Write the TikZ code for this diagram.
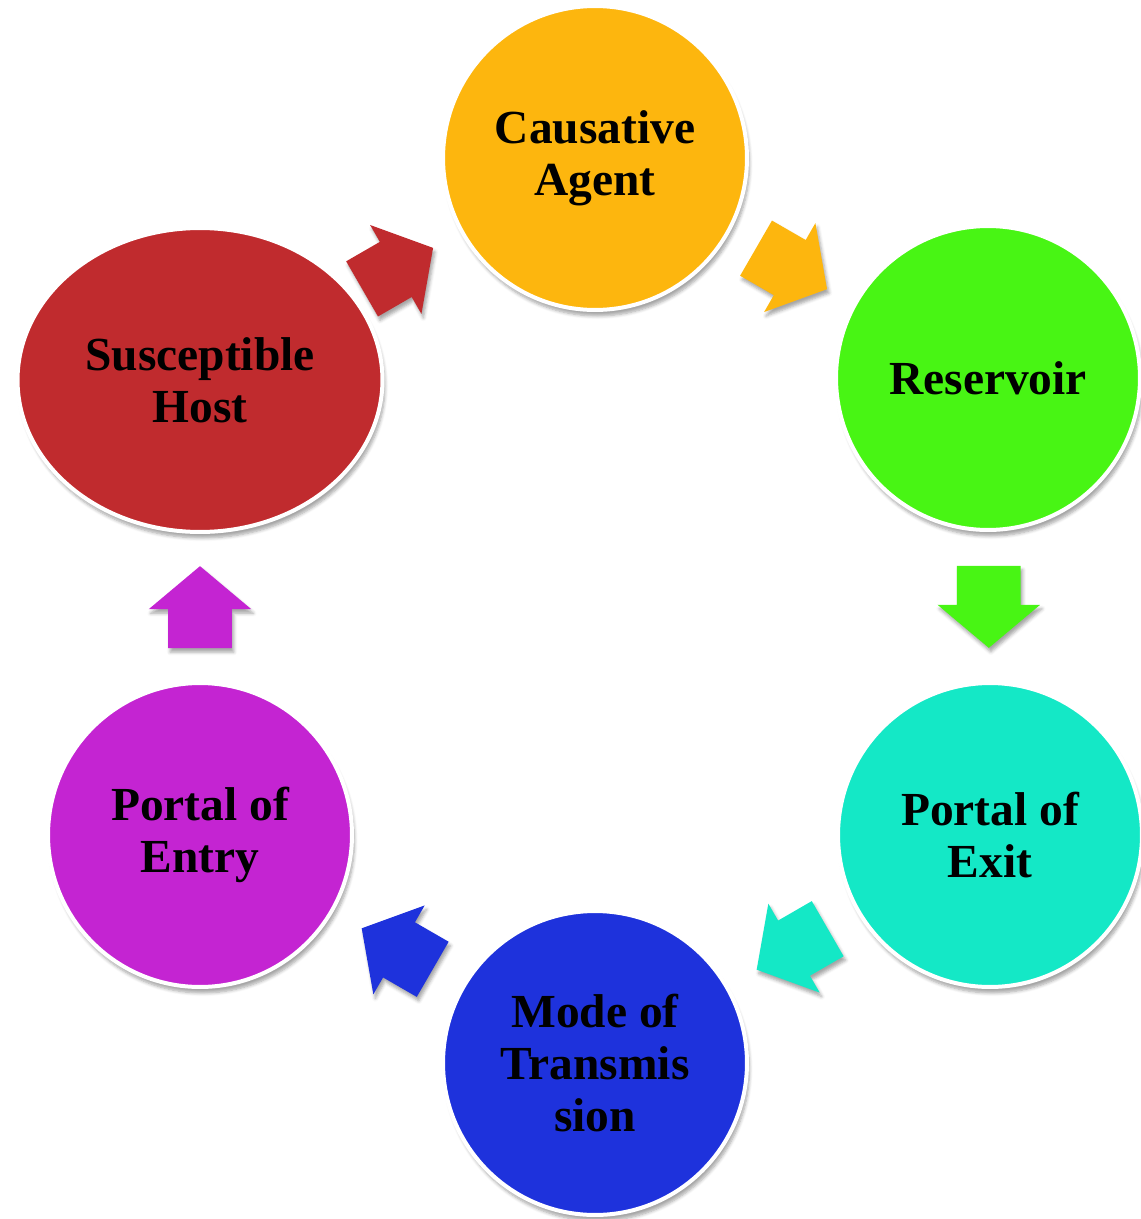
\documentclass[tikz,border=0pt]{standalone}
\usepackage{fontspec}
\setmainfont{Liberation Serif}
\usetikzlibrary{shapes.geometric,shapes.arrows,shadows.blur,calc}
\definecolor{agentc}{RGB}{253,182,14}
\definecolor{reservc}{RGB}{72,245,20}
\definecolor{exitc}{RGB}{20,232,198}
\definecolor{modec}{RGB}{30,50,220}
\definecolor{entryc}{RGB}{196,36,210}
\definecolor{hostc}{RGB}{192,43,46}
\tikzset{
    stage/.style={circle, draw=white, line width=0.08cm, minimum size=6.08cm, inner sep=0pt, align=center,
        font=\fontsize{27}{29.6}\selectfont\bfseries,
        blur shadow={shadow xshift=0.5mm, shadow yshift=-1.2mm, shadow opacity=35, shadow blur steps=6}},
    flow/.style={single arrow, anchor=tail, minimum height=1.64cm, inner xsep=0pt, inner ysep=0.63cm,
        single arrow head extend=0.39cm, single arrow tip angle=100,
        blur shadow={shadow xshift=0.4mm, shadow yshift=-0.8mm, shadow opacity=35, shadow blur steps=4}}
}
\begin{document}
\begin{tikzpicture}[x=0.02cm, y=-0.02cm]
    \useasboundingbox (0,0) rectangle (1140,1219);
    \node(agent) [stage, fill=agentc] at (595,158) {Causative\\Agent};
    \node(reservoir) [stage, fill=reservc] at (988,378) {Reservoir};
    \node(exit) [stage, fill=exitc] at (990,835) {Portal of\\Exit};
    \node(mode) [stage, fill=modec] at (595,1063) {Mode of\\Transmis\\sion};
    \node(entry) [stage, fill=entryc] at (200,835) {Portal of\\Entry};
    \node(host) [stage, ellipse, fill=hostc, minimum width=7.3cm, minimum height=6.08cm] at (200,380) {Susceptible\\Host};

    % block arrows between the stages, tail set back half a length from the midpoint
    \node(hostagent) [flow, fill=hostc, rotate=30] at ($($(host)!0.5!(agent)$)!0.82cm!(host)$) {};
    \node(agentreserv) [flow, fill=agentc, rotate=-30] at ($($(agent)!0.5!(reservoir)$)!0.82cm!(agent)$) {};
    \node(reservexit) [flow, fill=reservc, rotate=-90] at ($($(reservoir)!0.5!(exit)$)!0.82cm!(reservoir)$) {};
    \node(exitmode) [flow, fill=exitc, rotate=-150] at ($($(exit)!0.5!(mode)$)!0.82cm!(exit)$) {};
    \node(modeentry) [flow, fill=modec, rotate=150] at ($($(mode)!0.5!(entry)$)!0.82cm!(mode)$) {};
    \node(entryhost) [flow, fill=entryc, rotate=90] at ($($(entry)!0.5!(host)$)!0.82cm!(entry)$) {};
\end{tikzpicture}
\end{document}
